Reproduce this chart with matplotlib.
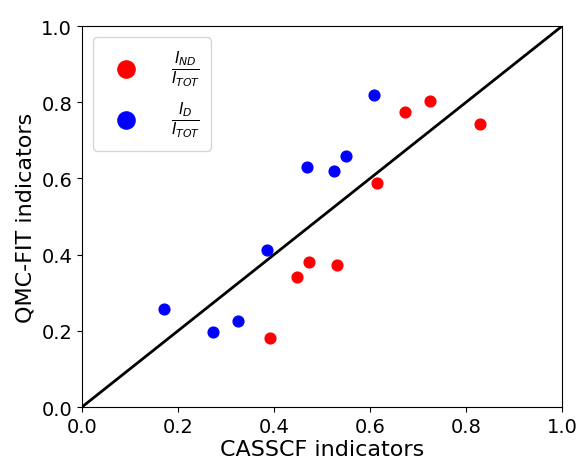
import matplotlib
matplotlib.use("Agg")
import matplotlib.pyplot as plt

casscf_nd = [0.392, 0.448, 0.474, 0.531, 0.615, 0.673, 0.726, 0.829]
qmc_nd = [0.181, 0.341, 0.381, 0.372, 0.589, 0.774, 0.804, 0.743]
casscf_d = [0.171, 0.273, 0.326, 0.386, 0.468, 0.526, 0.551, 0.609]
qmc_d = [0.257, 0.196, 0.227, 0.411, 0.629, 0.619, 0.659, 0.820]
diag = [0.0, 1.0]

fig = plt.figure(figsize=(5.77, 4.6), dpi=100)
ax = fig.add_axes([0.142, 0.113, 0.832, 0.828])
ax.plot(diag, diag, color="black", lw=2, zorder=1)
ax.scatter(casscf_nd, qmc_nd, color="red", s=60, zorder=2,
           label=r"$\frac{I_{ND}}{I_{TOT}}$")
ax.scatter(casscf_d, qmc_d, color="blue", s=60, zorder=2,
           label=r"$\frac{I_{D}}{I_{TOT}}$")
ax.set_xlim(0, 1)
ax.set_ylim(0, 1)
ax.set_xticks([0, 0.2, 0.4, 0.6, 0.8, 1.0])
ax.set_yticks([0, 0.2, 0.4, 0.6, 0.8, 1.0])
ax.tick_params(labelsize=14)
ax.set_xlabel("CASSCF indicators", fontsize=16, labelpad=2)
ax.set_ylabel("QMC-FIT indicators", fontsize=16)
ax.legend(loc="upper left", fontsize=16, markerscale=1.6, borderpad=0.5,
          labelspacing=0.5, handletextpad=1.0, borderaxespad=0.5)
fig.savefig("out.png", dpi=100)
